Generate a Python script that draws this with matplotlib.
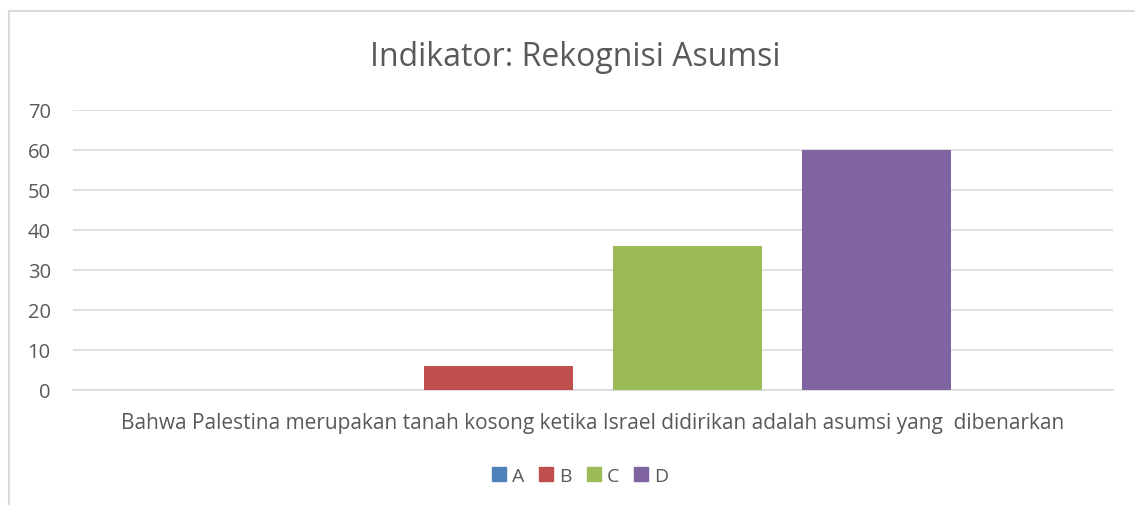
import matplotlib.pyplot as plt
from matplotlib.lines import Line2D
from matplotlib.patches import Patch

plt.rcParams['font.family'] = ['Open Sans', 'DejaVu Sans']

# data
category = 'Bahwa Palestina merupakan tanah kosong ketika Israel didirikan adalah asumsi yang  dibenarkan'
series = ['A', 'B', 'C', 'D']
values = [0, 6, 36, 60]
colors = ['#4f81bd', '#c0504d', '#9bbb59', '#8064a2']

fig = plt.figure(figsize=(11.35, 5.06), dpi=100)
ax = fig.add_axes([73 / 1135, 1 - 391 / 506, 1040 / 1135, 280 / 506])

step = 189 / 1040
width = 149 / 1040
for i, (name, v, c) in enumerate(zip(series, values, colors)):
    ax.bar((i - 1.5) * step, v, width=width, color=c, label=name, zorder=3)

ax.set_xlim(-0.5, 0.5)
ax.set_ylim(0, 70)
ax.set_yticks(range(0, 71, 10))
ax.set_xticks([0])
ax.set_xticklabels([category])
ax.tick_params(axis='both', length=0, labelsize=14.5, colors='#595959')
ax.tick_params(axis='x', labelsize=15, pad=16)
ax.tick_params(axis='y', pad=16)
ax.grid(axis='y', color='#d9d9d9', linewidth=1.2, zorder=0)
for s in ['top', 'right', 'left']:
    ax.spines[s].set_visible(False)
ax.spines['bottom'].set_color('#d9d9d9')
ax.spines['bottom'].set_linewidth(1.2)

fig.text(575 / 1135, 1 - 58 / 506, 'Indikator: Rekognisi Asumsi', ha='center', va='center',
         fontsize=23, color='#595959')

handles = [Patch(color=c, label=n) for n, c in zip(series, colors)]
fig.legend(handles=handles, loc='center', bbox_to_anchor=(580 / 1135, 1 - 477 / 506), ncol=4,
           frameon=False, fontsize=14, handlelength=0.7, handleheight=0.7,
           handletextpad=0.3, columnspacing=0.8, labelcolor='#595959')

# chart frame edge
fig.add_artist(Line2D([9 / 1135, 1], [1 - 12 / 506] * 2, color='#d9d9d9', linewidth=1.5))
fig.add_artist(Line2D([9 / 1135] * 2, [0, 1 - 12 / 506], color='#d9d9d9', linewidth=1.5))

fig.savefig('out.png', dpi=100)
